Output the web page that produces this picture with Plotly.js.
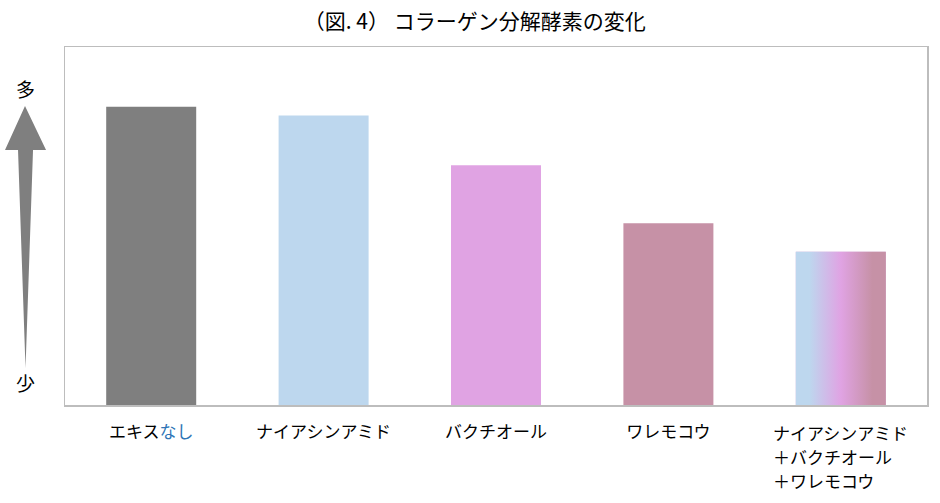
<!DOCTYPE html>
<html>
<head>
<meta charset="utf-8">
<script src="https://cdn.plot.ly/plotly-3.0.1.min.js"></script>
<style>html,body{margin:0;padding:0;background:#fff;}#chart{width:940px;height:503px;}</style>
</head>
<body>
<div id="chart"></div>
<script>
const categories = [
  "エキス<span style='color:#2E75B6'>なし</span>",
  "ナイアシンアミド",
  "バクチオール",
  "ワレモコウ",
  "ナイアシンアミド<br>＋バクチオール　<br>＋ワレモコウ　　"
];
const values = [83.3, 80.9, 67.0, 50.8, 42.8];
const barColors = ["#7F7F7F", "#BDD7EE", "#E0A3E3", "#C691A6", "#D4A8D6"];
const gradientStops = [[0, "#BDD7EE"], [0.15, "#BDD7EE"], [0.5, "#E0A3E3"], [0.85, "#C691A6"], [1, "#C691A6"]];
const titleText = "（図. 4） コラーゲン分解酵素の変化";
const upLabel = "多";
const downLabel = "少";

const FONT = "'Noto Sans CJK JP', 'Noto Sans', sans-serif";
const bargap = 0.478;
const idx = values.map((_, i) => i);

const barTrace = {
  type: "bar",
  x: idx,
  y: values,
  marker: { color: barColors, line: { width: 0 } },
  hoverinfo: "skip"
};

// gradient overlay for the combined bar (last category), built from its index and value
const last = values.length - 1;
const hw = (1 - bargap) / 2;
const gradTrace = {
  type: "scatter",
  mode: "lines",
  x: [last - hw, last + hw, last + hw, last - hw, last - hw],
  y: [0, 0, values[last], values[last], 0],
  fill: "toself",
  line: { width: 0, color: "rgba(0,0,0,0)" },
  fillgradient: { type: "horizontal", colorscale: gradientStops },
  hoverinfo: "skip",
  showlegend: false
};

// multi-line category labels are drawn line by line (wider line spacing), single-line ones as tick labels
const tickText = categories.map(c => c.includes("<br>") ? "" : c);
const lineAnns = [];
categories.forEach((c, i) => {
  if (!c.includes("<br>")) return;
  c.split("<br>").forEach((line, k) => {
    lineAnns.push({
      text: line, xref: "x", yref: "paper", x: i, y: -(27 + 24 * k) / 358,
      xanchor: "center", yanchor: "middle", showarrow: false,
      font: { family: FONT, size: 17, color: "#000" }
    });
  });
});

const layout = {
  width: 940,
  height: 503,
  margin: { l: 65, r: 13, t: 47, b: 98 },
  paper_bgcolor: "#fff",
  plot_bgcolor: "#fff",
  showlegend: false,
  bargap: bargap,
  font: { family: FONT, color: "#000" },
  title: {
    text: titleText,
    font: { family: FONT, size: 21, color: "#000" },
    x: 0.505, xref: "container", xanchor: "center",
    y: 1 - 22 / 503, yref: "container", yanchor: "middle"
  },
  xaxis: {
    type: "linear",
    range: [-0.5, values.length - 0.5],
    tickvals: idx,
    ticktext: tickText,
    ticks: "",
    ticklabelstandoff: 11,
    tickfont: { family: FONT, size: 17, color: "#000" },
    showgrid: false,
    zeroline: false,
    showline: true,
    mirror: true,
    linecolor: "#BDBDBD",
    linewidth: 1.5,
    fixedrange: true
  },
  yaxis: {
    range: [0, 100],
    showticklabels: false,
    ticks: "",
    showgrid: false,
    zeroline: false,
    showline: true,
    mirror: true,
    linecolor: "#BDBDBD",
    linewidth: 1.5,
    fixedrange: true
  },
  shapes: [{
    type: "path",
    xref: "paper", yref: "paper",
    path: "M -0.0464,0.835 L -0.0220,0.712 L -0.0371,0.712 L -0.0458,0.103 L -0.0545,0.712 L -0.0696,0.712 Z",
    fillcolor: "#7F7F7F",
    line: { width: 0 }
  }],
  annotations: [
    { text: upLabel, xref: "paper", yref: "paper", x: -0.046, y: 0.885, showarrow: false,
      xanchor: "center", yanchor: "middle", font: { family: FONT, size: 19, color: "#000" } },
    { text: downLabel, xref: "paper", yref: "paper", x: -0.046, y: 0.064, showarrow: false,
      xanchor: "center", yanchor: "middle", font: { family: FONT, size: 19, color: "#000" } }
  ].concat(lineAnns)
};

Plotly.newPlot("chart", [barTrace, gradTrace], layout, { displayModeBar: false, staticPlot: true });
</script>
</body>
</html>
